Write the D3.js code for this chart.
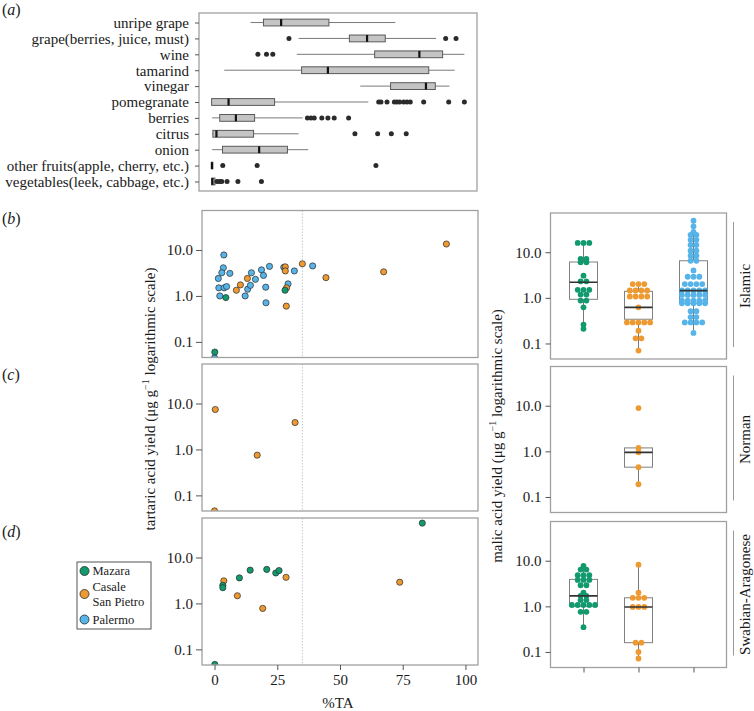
<!DOCTYPE html>
<html><head><meta charset="utf-8">
<script src="https://cdn.jsdelivr.net/npm/d3@7"></script>
<style>body{margin:0;background:#fff}</style>
</head><body><svg id="c" width="754" height="711"></svg>
<script>
// ---------- Panel (a) data ----------
const foodCats = ["unripe grape","grape(berries, juice, must)","wine","tamarind","vinegar","pomegranate","berries","citrus","onion","other fruits(apple, cherry, etc.)","vegetables(leek, cabbage, etc.)"];
const foodLo  = [15.4, 34.4, 33.7, 5.0, 58.8, 0,    0.2, 0.2, 0.2, 0,   0];
const foodQ1  = [20.5, 54.5, 64.5, 35.6, 70.8, 0,   3.2, 0.5, 4.3, 0,   0];
const foodMed = [27.5, 61.5, 82.2, 46.0, 84.8, 6.7, 9.6, 1.9, 18.8, 0.1, 0.3];
const foodQ3  = [46.4, 68.7, 91.4, 85.9, 88.5, 24.9, 17.0, 16.6, 30.0, 0.5, 1.3];
const foodHi  = [72.7, 88.8, 100, 96.2, 94.1, 62.0, 36.0, 34.4, 38.2, 0.5, 1.3];
const foodOut = [
  [], [30.6, 92.6, 96.7], [18.3, 21.7, 24.2], [], [],
  [66.1, 67, 69.4, 72.3, 73.3, 74.4, 76, 77.3, 78.6, 83.9, 93.8, 100],
  [37.9, 39.3, 40.6, 43.6, 46, 48.5, 54.2],
  [56.7, 65.7, 71.1, 77], [], [4.4, 18, 65], [2.1, 3.1, 4.0, 6.1, 10.4, 19.7]
];

// ---------- Scatter data (%TA vs tartaric acid) ----------
const sites = ["Mazara","Casale San Pietro","Palermo"];
const siteColors = ["#119a6e","#ee9a32","#56b4e9"];
const periods = ["Islamic","Norman","Swabian-Aragonese"];

const islMazaraTA = [4.5, 28.1, 0.1];
const islMazaraTart = [0.92, 1.33, 0.06];
const islCasaleTA = [8.7,10.3,13.1,28.2,28.2,28.7,28.6,35,44.4,67.4,92.4];
const islCasaleTart = [1.33,1.74,2.4,4.3,3.5,1.5,0.6,5.0,2.5,3.35,13.5];
const islPalermoTA = [3.7,3.5,2.9,6.1,1.5,1.7,3.8,4.8,2.1,12.2,13.2,14.3,14.7,16.3,18.7,19.5,21.9,20.4,20.5,27.6,29.3,31.8,39.1,0];
const islPalermoTart = [7.8,4.1,3.2,3.1,2.4,1.5,1.5,1.6,1.0,1.0,1.4,1.7,3.2,2.3,3.7,2.8,4.4,1.55,0.71,4.2,1.83,3.5,4.5,0.045];
const norCasaleTA = [0.3, 32.1, 17, 0];
const norCasaleTart = [7.4, 3.85, 0.75, 0.046];
const swaMazaraTA = [0.1, 3.3, 3.3, 9.9, 14.2, 20.8, 24.4, 25.7, 82.8];
const swaMazaraTart = [0.047, 2.48, 2.2, 3.6, 5.3, 5.5, 4.6, 5.2, 56];
const swaCasaleTA = [3.7, 9.1, 19.2, 28.5, 73.8];
const swaCasaleTart = [3.1, 1.47, 0.78, 3.7, 2.9];

// ---------- Malic acid data (dot + box) ----------
const islMazaraMalic = [16,16,16,7.1,7.1,6.0,6.0,3.07,2.3,2.3,1.5,1.5,1.5,1.18,1.18,0.87,0.87,0.62,0.26,0.21];
const islCasaleMalic = [2.0,2.0,2.0,1.45,1.45,1.45,1.45,1.07,1.07,1.07,1.07,0.62,0.29,0.29,0.29,0.29,0.29,0.19,0.13,0.13,0.07];
const islPalermoMalic = [49,37,28,24,24,18.7,18.7,14.4,14.4,10.8,10.8,8.4,8.4,6.5,6.5,4.0,2.9,2.9,2.9,2.0,2.0,2.0,2.0,
  1.45,1.45,1.45,1.45,1.45,1.16,1.16,1.16,1.16,1.16,0.87,0.87,0.87,0.87,0.87,0.76,0.76,0.76,0.76,0.76,
  0.51,0.51,0.38,0.38,0.29,0.29,0.29,0.29,0.17];
const norCasaleMalic = [8.9,1.19,0.95,0.45,0.19];
const swaMazaraMalic = [7.7,6.4,6.4,4.8,4.8,4.8,3.8,3.8,3.8,2.9,2.9,2.0,1.7,1.7,1.37,1.37,1.07,1.07,1.07,1.07,1.07,0.76,0.76,0.35];
const swaCasaleMalic = [8.2,2.0,1.54,1.54,1.54,0.97,0.97,0.97,0.16,0.16,0.1,0.072];

// box stats [lo, q1, med, q3, hi] per site (null = no data)
const islBoxes = [[0.21,0.93,2.2,6.1,15.9],[0.07,0.34,0.62,1.39,2.1],[0.17,0.76,1.44,6.5,49]];
const norBoxes = [null,[0.19,0.45,0.95,1.19,1.19],null];
const swaBoxes = [[0.35,1.0,1.7,3.9,8],[0.072,0.16,0.97,1.54,8.2],null];

const yTicks = [0.1, 1, 10];
const xTicks = [0, 25, 50, 75, 100];

// ---------- drawing ----------
const svg = d3.select("#c").attr("font-family","'Liberation Serif','Times New Roman',serif");
const frameC = "#a0a0a0", tickC = "#555", textC = "#1a1a1a";

function styleAxis(g, fs){
  g.select(".domain").remove();
  g.selectAll(".tick line").attr("stroke", tickC).attr("stroke-width",1);
  g.selectAll(".tick text").attr("fill", textC).attr("font-size", fs).attr("font-family","'Liberation Serif','Times New Roman',serif");
}

// Panel (a)
const aX = d3.scaleLinear().domain([-5,105]).range([199,477]);
const aY = d3.scalePoint().domain(foodCats).range([13,191]).padding(0.6);
svg.append("rect").attr("x",199).attr("y",13).attr("width",278).attr("height",178)
  .attr("fill","none").attr("stroke",frameC).attr("stroke-width",1.3);
svg.append("g").attr("transform","translate(199,0)")
  .call(d3.axisLeft(aY).tickSize(4).tickPadding(6)).call(g=>styleAxis(g,"15px"));
const aG = svg.append("g");
foodCats.forEach((c,i)=>{
  const y = aY(c), bh = 6.8;
  aG.append("line").attr("x1",aX(foodLo[i])).attr("x2",aX(foodQ1[i])).attr("y1",y).attr("y2",y).attr("stroke","#7a7a7a");
  aG.append("line").attr("x1",aX(foodQ3[i])).attr("x2",aX(foodHi[i])).attr("y1",y).attr("y2",y).attr("stroke","#7a7a7a");
  aG.append("rect").attr("x",aX(foodQ1[i])).attr("y",y-bh/2).attr("width",Math.max(aX(foodQ3[i])-aX(foodQ1[i]),1))
    .attr("height",bh).attr("fill","#c4c4c4").attr("stroke","#5a5a5a").attr("stroke-width",1);
  aG.append("line").attr("x1",aX(foodMed[i])).attr("x2",aX(foodMed[i])).attr("y1",y-bh/2).attr("y2",y+bh/2)
    .attr("stroke","#111").attr("stroke-width",2.2);
  foodOut[i].forEach(v=>aG.append("circle").attr("cx",aX(v)).attr("cy",y).attr("r",2.5).attr("fill","#2b2b2b"));
});

// Scatter panels
const sX = d3.scaleLinear().domain([-5,105]).range([202,478]);
const yDom = [0.0457, 72.4];
const scTops = [210.5, 364, 518], scH = 147;
const bxTops = [213, 366.5, 521.5], bxH = 146;
const scData = [
  [[islMazaraTA,islMazaraTart],[islCasaleTA,islCasaleTart],[islPalermoTA,islPalermoTart]],
  [null,[norCasaleTA,norCasaleTart],null],
  [[swaMazaraTA,swaMazaraTart],[swaCasaleTA,swaCasaleTart],null]
];
const drawOrder = [2,1,0];
scData.forEach((row,r)=>{
  const top = scTops[r];
  const y = d3.scaleLog().domain(yDom).range([top+scH, top]);
  const id = "clipS"+r;
  svg.append("clipPath").attr("id",id).append("rect").attr("x",202).attr("y",top).attr("width",276).attr("height",scH);
  svg.append("line").attr("x1",sX(35)).attr("x2",sX(35)).attr("y1",top).attr("y2",top+scH)
    .attr("stroke","#c8c8c8").attr("stroke-width",1).attr("stroke-dasharray","1.5,1.5");
  const g = svg.append("g").attr("clip-path",`url(#${id})`);
  drawOrder.forEach(k=>{
    const d = row[k]; if(!d) return;
    d[0].forEach((xv,j)=>{
      g.append("circle").attr("cx",sX(xv)).attr("cy",y(d[1][j])).attr("r",3.1)
        .attr("fill",siteColors[k]).attr("stroke","#2a2a2a").attr("stroke-width",0.7);
    });
  });
  svg.append("rect").attr("x",202).attr("y",top).attr("width",276).attr("height",scH)
    .attr("fill","none").attr("stroke",frameC).attr("stroke-width",1.3);
  svg.append("g").attr("transform","translate(202,0)")
    .call(d3.axisLeft(y).tickValues(yTicks).tickFormat(d3.format(".1f")).tickSize(6).tickPadding(3))
    .call(g=>styleAxis(g,"15px"));
  if(r===2){
    svg.append("g").attr("transform",`translate(0,${top+scH})`)
      .call(d3.axisBottom(sX).tickValues(xTicks).tickSize(5).tickPadding(4))
      .call(g=>styleAxis(g,"15px"));
  }
});

// Box + dot panels
const bX = d3.scalePoint().domain(sites).range([550.5,726.5]).padding(0.6);
const malic = [
  [islMazaraMalic, islCasaleMalic, islPalermoMalic],
  [null, norCasaleMalic, null],
  [swaMazaraMalic, swaCasaleMalic, null]
];
const boxes = [islBoxes, norBoxes, swaBoxes];
malic.forEach((row,r)=>{
  const top = bxTops[r];
  const y = d3.scaleLog().domain(yDom).range([top+bxH, top]);
  const id = "clipB"+r;
  svg.append("clipPath").attr("id",id).append("rect").attr("x",550.5).attr("y",top).attr("width",176).attr("height",bxH);
  const g = svg.append("g").attr("clip-path",`url(#${id})`);
  row.forEach((vals,k)=>{
    if(!vals) return;
    const cx = bX(sites[k]), b = boxes[r][k], bw = 28;
    g.append("line").attr("x1",cx).attr("x2",cx).attr("y1",y(b[0])).attr("y2",y(b[1])).attr("stroke","#777");
    g.append("line").attr("x1",cx).attr("x2",cx).attr("y1",y(b[3])).attr("y2",y(b[4])).attr("stroke","#777");
    g.append("rect").attr("x",cx-bw/2).attr("y",y(b[3])).attr("width",bw).attr("height",y(b[1])-y(b[3]))
      .attr("fill","#fff").attr("stroke","#808080").attr("stroke-width",1);
    const groups = d3.groups(vals, v=>v);
    groups.forEach(([v,arr])=>{
      const n = arr.length;
      arr.forEach((_,i)=>{
        g.append("circle").attr("cx",cx+(i-(n-1)/2)*5.8).attr("cy",y(v)).attr("r",2.9)
          .attr("fill",siteColors[k]);
      });
    });
    g.append("line").attr("x1",cx-bw/2).attr("x2",cx+bw/2).attr("y1",y(b[2])).attr("y2",y(b[2]))
      .attr("stroke","#333").attr("stroke-width",1.6);
  });
  svg.append("rect").attr("x",550.5).attr("y",top).attr("width",176).attr("height",bxH)
    .attr("fill","none").attr("stroke",frameC).attr("stroke-width",1.3);
  svg.append("g").attr("transform","translate(550.5,0)")
    .call(d3.axisLeft(y).tickValues(yTicks).tickFormat(d3.format(".1f")).tickSize(5).tickPadding(4))
    .call(g=>styleAxis(g,"15px"));
  if(r===2){
    svg.append("g").attr("transform",`translate(0,${top+bxH})`)
      .call(d3.axisBottom(bX).tickFormat("").tickSize(5)).call(g=>styleAxis(g,"15px"));
  }
  // strip
  svg.append("line").attr("x1",733.5).attr("x2",733.5).attr("y1",top+9).attr("y2",top+bxH-12)
    .attr("stroke","#999").attr("stroke-width",1);
  svg.append("text").attr("transform",`translate(745,${top+bxH/2}) rotate(-90)`)
    .attr("text-anchor","middle").attr("dominant-baseline","central")
    .attr("font-size","15px").attr("fill",textC).text(periods[r]);
});

// axis titles
function yTitle(x, yc, label){
  const t = svg.append("text").attr("transform",`translate(${x},${yc}) rotate(-90)`)
    .attr("text-anchor","middle").attr("dominant-baseline","central").attr("font-size","15px").attr("fill",textC);
  t.append("tspan").text(label + " yield (\u03bcg g");
  t.append("tspan").attr("dy","-5").attr("font-size","10px").text("\u22121");
  t.append("tspan").attr("dy","5").text(" logarithmic scale)");
}
yTitle(149.5, 399, "tartaric acid");
yTitle(496.5, 436, "malic acid");
svg.append("text").attr("x",338).attr("y",708).attr("text-anchor","middle")
  .attr("font-size","15px").attr("fill",textC).text("%TA");

// panel labels
[["a",15],["b",224],["c",380],["d",537]].forEach(([l,yy])=>{
  const t = svg.append("text").attr("x",2).attr("y",yy).attr("font-size","16px").attr("fill",textC);
  t.append("tspan").text("(");
  t.append("tspan").attr("font-style","italic").text(l);
  t.append("tspan").text(")");
});

// legend
const lg = svg.append("g");
lg.append("rect").attr("x",77).attr("y",562).attr("width",74).attr("height",67)
  .attr("fill","#fff").attr("stroke","#555").attr("stroke-width",1);
const legY = [571, 594, 619.5];
const legLines = [["Mazara"],["Casale","San Pietro"],["Palermo"]];
sites.forEach((s,i)=>{
  lg.append("circle").attr("cx",84.5).attr("cy",legY[i]).attr("r",4.5)
    .attr("fill",siteColors[i]).attr("stroke","#2a2a2a").attr("stroke-width",0.8);
  const lines = legLines[i];
  const t = lg.append("text").attr("x",92.5).attr("font-size","12.5px").attr("fill",textC);
  if(lines.length===1){
    t.attr("y",legY[i]+4.3).text(lines[0]);
  } else {
    t.attr("y",legY[i]-3);
    t.append("tspan").attr("x",92.5).text(lines[0]);
    t.append("tspan").attr("x",92.5).attr("dy",14.5).text(lines[1]);
  }
});
</script></body></html>
